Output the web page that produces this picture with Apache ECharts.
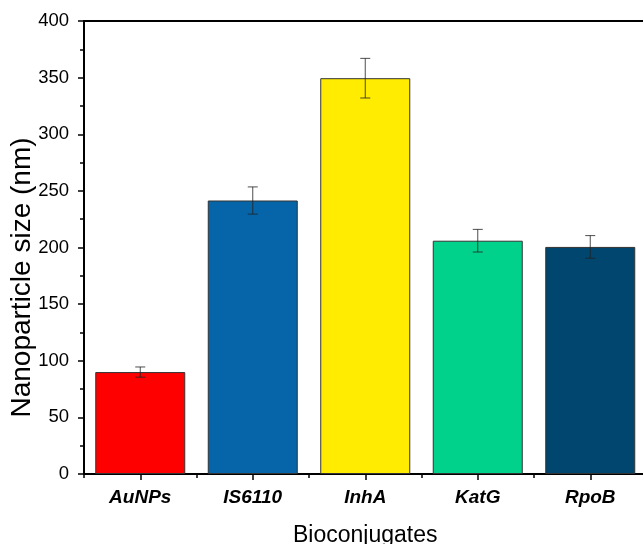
<!DOCTYPE html>
<html>
<head>
<meta charset="utf-8">
<script src="https://cdn.jsdelivr.net/npm/echarts@6/dist/echarts.min.js"></script>
<style>html,body{margin:0;padding:0;background:#fff;}#c{width:643px;height:544px;}</style>
</head>
<body>
<div id="c"></div>
<script>
const categories = ['AuNPs', 'IS6110', 'InhA', 'KatG', 'RpoB'];
const values = [90, 241.5, 349.5, 206, 200.5];
const errors = [4.5, 12, 17.5, 10, 10];
const colors = ['#FF0000', '#0565A8', '#FFEC00', '#00D28C', '#01466F'];
const yTicks = [0, 50, 100, 150, 200, 250, 300, 350, 400];

const chart = echarts.init(document.getElementById('c'));
const font = 'Liberation Sans, Arial, sans-serif';
chart.setOption({
  animation: false,
  grid: { left: 84, top: 21, width: 562.5, height: 453, outerBoundsMode: 'none', containLabel: false },
  xAxis: [{
    type: 'category',
    data: categories,
    name: 'Bioconjugates',
    nameLocation: 'middle',
    nameGap: 50,
    nameMoveOverlap: false,
    nameTextStyle: { fontFamily: font, fontSize: 23, color: '#000' },
    axisLine: { lineStyle: { color: '#000', width: 2 } },
    axisTick: { show: true, alignWithLabel: true, length: 6, lineStyle: { color: '#000', width: 1.5 } },
    axisLabel: { fontFamily: font, fontSize: 19, fontWeight: 'bold', fontStyle: 'italic', color: '#000', margin: 14 },
    splitLine: { show: false }
  }, {
    type: 'value', position: 'bottom', min: 0, max: 5, interval: 1,
    axisLine: { show: false },
    axisTick: { show: true, length: 4, lineStyle: { color: '#000', width: 1.5 } },
    axisLabel: { show: false }, splitLine: { show: false }
  }, {
    type: 'value', position: 'top', min: 0, max: 5,
    axisLine: { show: true, lineStyle: { color: '#000', width: 2 } },
    axisTick: { show: false }, axisLabel: { show: false }, splitLine: { show: false }
  }],
  yAxis: {
    type: 'value', min: 0, max: 400, interval: 50,
    name: 'Nanoparticle size (nm)',
    nameLocation: 'middle',
    nameGap: 48,
    nameMoveOverlap: false,
    nameTextStyle: { fontFamily: font, fontSize: 28, color: '#000', padding: [0, 60, 0, 0] },
    axisLine: { show: true, lineStyle: { color: '#000', width: 2 } },
    axisTick: { show: true, length: 6, lineStyle: { color: '#000', width: 1.5 } },
    minorTick: { show: true, splitNumber: 2, length: 4, lineStyle: { color: '#000', width: 1.5 } },
    axisLabel: { fontFamily: font, fontSize: 18.5, color: '#000', margin: 15,
      formatter: v => yTicks.includes(v) ? String(v) : '' },
    splitLine: { show: false }
  },
  series: [{
    type: 'bar',
    xAxisIndex: 0,
    barWidth: '80%',
    data: values.map((v, i) => ({ value: v, itemStyle: { color: colors[i] } })),
    itemStyle: { borderColor: '#333', borderWidth: 1 }
  }, {
    type: 'custom',
    xAxisIndex: 0,
    z: 10,
    data: values.map((v, i) => [i, v - errors[i], v + errors[i]]),
    renderItem: function (params, api) {
      const lo = api.coord([api.value(0), api.value(1)]);
      const hi = api.coord([api.value(0), api.value(2)]);
      const x = lo[0], w = 5;
      const st = { stroke: '#222', lineWidth: 1, opacity: 0.8 };
      return { type: 'group', children: [
        { type: 'line', shape: { x1: x, y1: lo[1], x2: x, y2: hi[1] }, style: st },
        { type: 'line', shape: { x1: x - w, y1: lo[1], x2: x + w, y2: lo[1] }, style: st },
        { type: 'line', shape: { x1: x - w, y1: hi[1], x2: x + w, y2: hi[1] }, style: st }
      ]};
    }
  }]
});
</script>
</body>
</html>
